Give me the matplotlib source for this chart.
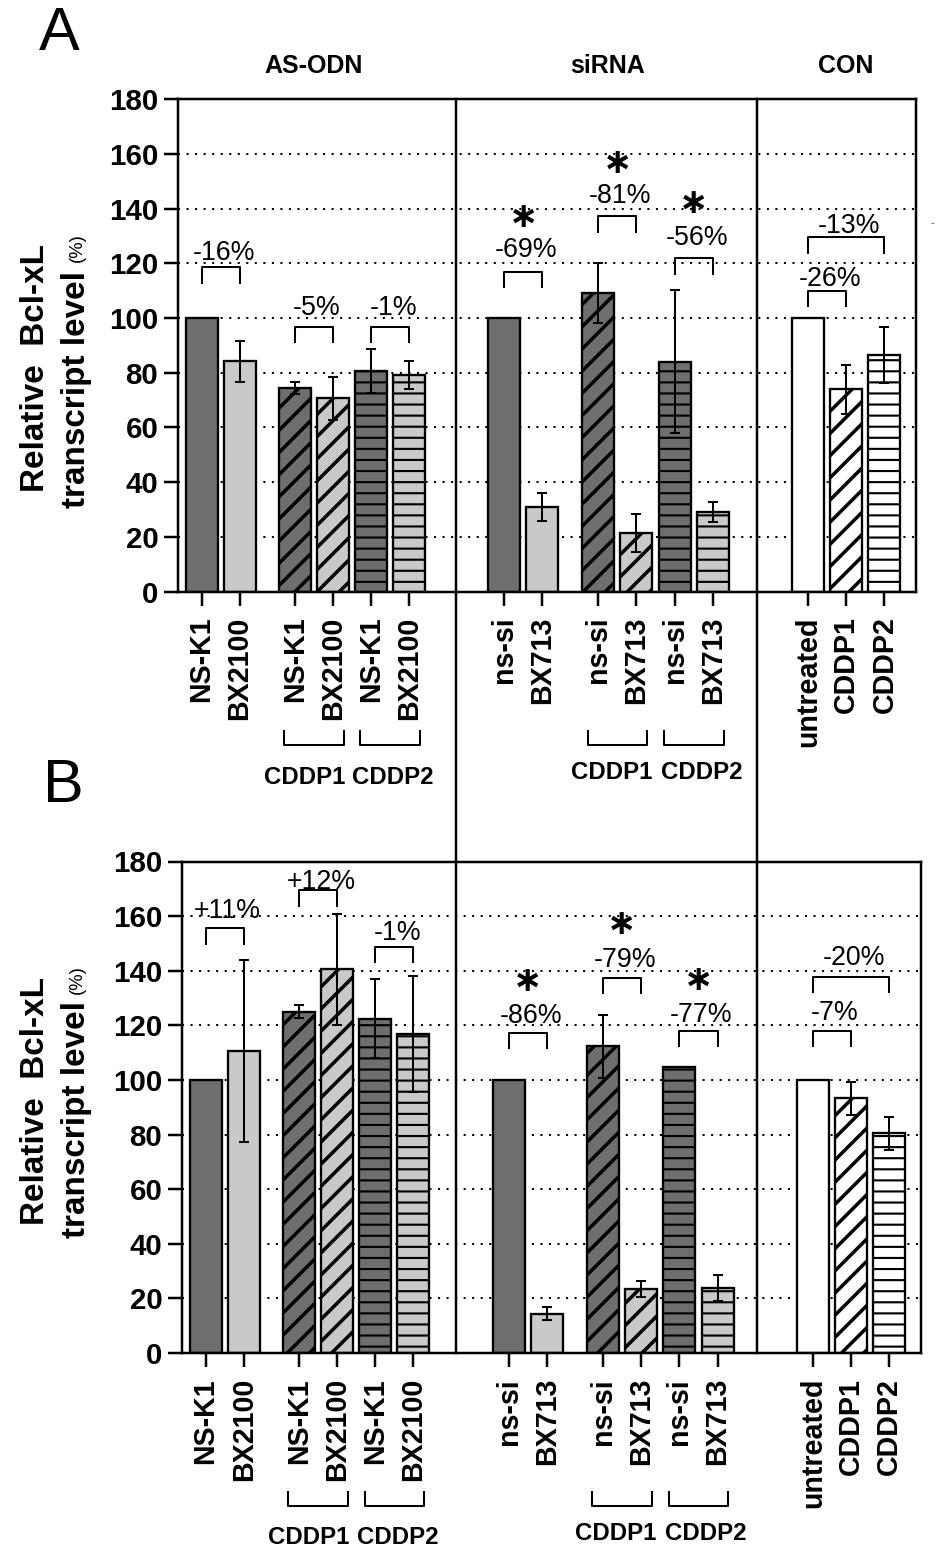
import matplotlib
matplotlib.use("Agg")
import matplotlib.pyplot as plt
from matplotlib.lines import Line2D
import matplotlib.transforms as mtransforms

plt.rcParams['font.family'] = ['Liberation Sans', 'DejaVu Sans']
plt.rcParams['hatch.linewidth'] = 1.6

# ---------------- data ----------------
tick_labels = ["NS-K1", "BX2100", "NS-K1", "BX2100", "NS-K1", "BX2100",
               "ns-si", "BX713", "ns-si", "BX713", "ns-si", "BX713",
               "untreated", "CDDP1", "CDDP2"]
group_titles = ["AS-ODN", "siRNA", "CON"]

A_values = [100, 84.2, 74.4, 70.6, 80.6, 79.2,
            100, 30.9, 109.3, 21.5, 84.1, 29.0,
            100, 74.0, 86.5]
A_err = [0, 7.5, 2.3, 7.8, 8.0, 5.0,
         0, 5.0, 11.0, 7.0, 26.0, 3.6,
         0, 9.0, 10.4]

B_values = [100, 110.7, 125.0, 140.5, 122.5, 116.8,
            100, 14.4, 112.3, 23.4, 104.7, 23.8,
            100, 93.3, 80.4]
B_err = [0, 33.4, 2.3, 20.4, 14.3, 21.2,
         0, 2.4, 11.6, 3.0, 0, 4.8,
         0, 6.0, 6.0]

# comparison brackets (bar index pairs), bracket heights, labels
br_left = [0, 2, 4, 6, 8, 10, 12, 12]
br_right = [1, 3, 5, 7, 9, 11, 13, 14]
A_br_top = [118.5, 96.8, 96.8, 117.0, 137.2, 121.8, 109.9, 129.6]
A_br_text = ["-16%", "-5%", "-1%", "-69%", "-81%", "-56%", "-26%", "-13%"]
A_text_y = [124.6, 104.5, 104.5, 125.9, 145.7, 130.2, 115.1, 134.6]
A_star_y = [None, None, None, 137.0, 156.8, 142.0, None, None]

B_br_top = [155.6, 169.5, 148.7, 117.2, 137.3, 118.1, 118.1, 137.8]
B_br_text = ["+11%", "+12%", "-1%", "-86%", "-79%", "-77%", "-7%", "-20%"]
B_text_y = [162.7, 173.4, 154.6, 124.3, 144.7, 124.7, 125.3, 145.7]
B_star_y = [None, None, None, 136.1, 157.1, 136.7, None, None]

# treatment brackets under the tick labels
cddp_left = [2, 4, 8, 10]
cddp_right = [3, 5, 9, 11]
cddp_text = ["CDDP1", "CDDP2", "CDDP1", "CDDP2"]

# ---------------- layout / style ----------------
W, H, DPI = 946, 1559, 133
positions = [0, 1, 2.45, 3.45, 4.45, 5.45,
             7.95, 8.95, 10.42, 11.42, 12.43, 13.43,
             15.93, 16.93, 17.93]
dark, light, white = "#6e6e6e", "#c9c9c9", "#ffffff"
colors = [dark, light, dark, light, dark, light,
          dark, light, dark, light, dark, light,
          white, white, white]
hatches = ['', '', '//', '//', '--', '--',
           '', '', '//', '//', '--', '--',
           '', '//', '--']
cddp_text_shift = [-0.25, 0.08, -0.15, 0.2]


def px(v):
    return v * 72.0 / DPI


fig = plt.figure(figsize=(W / DPI, H / DPI), dpi=DPI)

# axes rectangles in pixels: left, top, right, bottom
rectA = (178.3, 99.3, 916.0, 591.5)
rectB = (182.3, 861.5, 920.7, 1353.0)


def make_ax(rect):
    l, t, r, b = rect
    return fig.add_axes([l / W, 1 - b / H, (r - l) / W, (b - t) / H])


def draw_panel(ax, values, errs, br_top, br_text, text_y, star_y,
               cddp_bottom_px):
    ax.set_xlim(-0.61, 18.76)
    ax.set_ylim(0, 180)
    ax.set_axisbelow(True)
    ax.yaxis.grid(True, linestyle=(0, (1, 3.2)), color='black', linewidth=1.1)
    ax.xaxis.grid(False)
    for s in ax.spines.values():
        s.set_linewidth(1.35)
    bars = ax.bar(positions, values, width=0.84, color=colors,
                  edgecolor='black', linewidth=1.25, zorder=2)
    for p, h in zip(bars.patches, hatches):
        if h:
            p.set_hatch(h)
            if hasattr(p, 'set_hatch_linewidth'):
                p.set_hatch_linewidth(1.9 if '/' in h else 1.15)
    ex = [positions[i] for i in range(len(values)) if errs[i] > 0]
    ey = [values[i] for i in range(len(values)) if errs[i] > 0]
    ee = [errs[i] for i in range(len(values)) if errs[i] > 0]
    ax.errorbar(ex, ey, yerr=ee, fmt='none', ecolor='black',
                elinewidth=1.1, capsize=2.8, capthick=1.1, zorder=3)

    ax.set_yticks(range(0, 181, 20))
    ax.set_yticklabels([str(v) for v in range(0, 181, 20)],
                       fontsize=16, fontweight='bold')
    ax.set_xticks(positions)
    ax.set_xticklabels(tick_labels, rotation=90, fontsize=15.5,
                       fontweight='bold')
    ax.tick_params(axis='y', length=px(14), width=1.35, pad=px(6),
                   direction='out')
    ax.tick_params(axis='x', length=px(14), width=1.35, pad=px(11),
                   direction='out')

    leg = 6.0
    for k in range(len(br_left)):
        x1, x2 = positions[br_left[k]], positions[br_right[k]]
        top = br_top[k]
        ax.plot([x1, x1, x2, x2], [top - leg, top, top, top - leg],
                color='black', lw=1.1, solid_capstyle='butt', zorder=4,
                clip_on=False)
        ax.annotate(br_text[k], xy=((x1 + x2) / 2 + 0.08, text_y[k]),
                    xytext=(0, -2.5), textcoords='offset pixels',
                    ha='center', va='center', fontsize=14.5, zorder=5,
                    annotation_clip=False)
        if star_y[k] is not None:
            ax.annotate('\u2217', xy=((x1 + x2) / 2, star_y[k]),
                        xytext=(0, 0), textcoords='offset pixels',
                        ha='center', va='center', fontsize=19,
                        fontweight='bold', family=['DejaVu Sans'],
                        annotation_clip=False)

    # CDDP brackets under tick labels
    trans = mtransforms.blended_transform_factory(ax.transData, ax.transAxes)
    axh = ax.get_position().height * H
    ytop = -139.0 / axh
    ybot = -153.0 / axh
    for k in range(len(cddp_left)):
        x1 = positions[cddp_left[k]] - 0.28
        x2 = positions[cddp_right[k]] + 0.28
        ax.plot([x1, x1, x2, x2], [ytop, ybot, ybot, ytop], color='black',
                lw=1.1, transform=trans, clip_on=False)
        ylab = -cddp_bottom_px[k] / axh
        xc = (positions[cddp_left[k]] + positions[cddp_right[k]]) / 2 \
            + cddp_text_shift[k]
        ax.text(xc, ylab, cddp_text[k], transform=trans, ha='center',
                va='center', fontsize=13, fontweight='bold')


axA = make_ax(rectA)
axB = make_ax(rectB)
draw_panel(axA, A_values, A_err, A_br_top, A_br_text, A_text_y, A_star_y,
           [186, 186, 181, 181])
draw_panel(axB, B_values, B_err, B_br_top, B_br_text, B_text_y, B_star_y,
           [185, 185, 180, 180])

# group dividers spanning both panels
for xd in (456.0, 757.3):
    fig.add_artist(Line2D([xd / W, xd / W], [1 - 99.3 / H, 1 - 1353.0 / H],
                          transform=fig.transFigure, color='black',
                          lw=1.35))

# group titles
for name, xc in zip(group_titles, (314, 608, 846)):
    fig.text(xc / W, 1 - 66 / H, name, ha='center', va='center',
             fontsize=13.5, fontweight='bold')

# panel letters
fig.text(59 / W, 1 - 35 / H, "A", ha='center', va='center', fontsize=33)
fig.text(63 / W, 1 - 786 / H, "B", ha='center', va='center', fontsize=33)

# y labels
for ax, c1, c2 in ((axA, 368, 389), (axB, 1101, 1120)):
    fig.text(36 / W, 1 - c1 / H, "Relative  Bcl-xL", rotation=90,
             ha='center', va='center', fontsize=18, fontweight='bold')
    t2 = fig.text(77 / W, 1 - c2 / H, "transcript level", rotation=90,
                  ha='center', va='center', fontsize=18, fontweight='bold')
    ax.annotate("(%)", xy=(0.5, 1.0), xycoords=t2, xytext=(0, 8),
                textcoords='offset pixels', rotation=90, ha='center',
                va='bottom', fontsize=10, annotation_clip=False)

# small speck at right edge of panel A
fig.text(932 / W, 1 - 223 / H, "-", ha='center', va='center', fontsize=6,
         color='#555555')

fig.savefig("out.png", dpi=DPI)
